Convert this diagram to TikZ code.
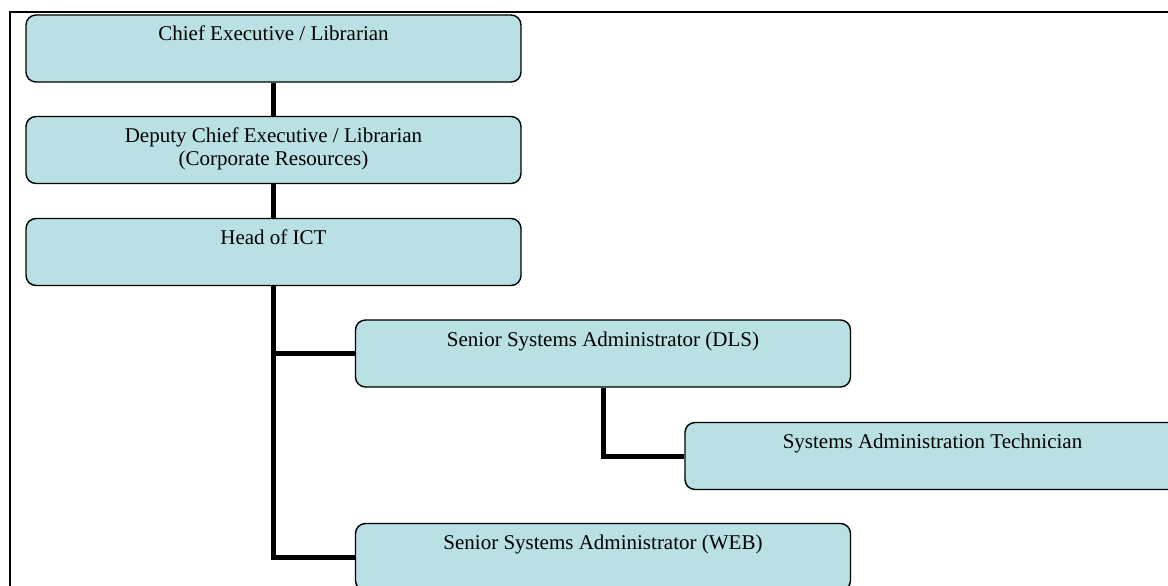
\documentclass[tikz,border=0pt]{standalone}
\usepackage{fontspec}
\setmainfont{Liberation Serif}
\usetikzlibrary{positioning}
\definecolor{boxfill}{RGB}{185,224,227}
\tikzset{orgbox/.style={draw=black,fill=boxfill,line width=1.4pt,rounded corners=10pt,
    inner sep=0pt,font={\fontsize{21}{23.5}\selectfont}},
  link/.style={line width=5pt}}
\newcommand*{\ot}[1]{\parbox[t][67pt][t]{495pt}{\centering\rule{0pt}{26pt}#1}}

\begin{document}
\begin{tikzpicture}[x=1pt,y=-1pt]
\useasboundingbox (0,0) rectangle (1168,586);
\clip (0,0) rectangle (1168,586);
\fill[white] (0,0) rectangle (1168,586);
\draw[line width=2pt] (10,12) rectangle (1190,600);
\node[orgbox] (ceo) at (273.5,48.5) {\ot{Chief Executive / Librarian}};
\node[orgbox] (dep) at (273.5,150) {\ot{Deputy Chief Executive / Librarian\\(Corporate Resources)}};
\node[orgbox] (ict) at (273.5,252) {\ot{Head of ICT}};
\node[orgbox] (dls) at (603,353.5) {\ot{Senior Systems Administrator (DLS)}};
\node[orgbox] (tech) at (932.5,456) {\ot{Systems Administration Technician}};
\node[orgbox] (web) at (603,557) {\ot{Senior Systems Administrator (WEB)}};
\draw[link] (ceo) -- (dep);
\draw[link] (dep) -- (ict);
\draw[link] (ict.south) |- (dls.west);
\draw[link] (ict.south) |- (web.west);
\draw[link] (dls.south) |- (tech.west);
\end{tikzpicture}
\end{document}
